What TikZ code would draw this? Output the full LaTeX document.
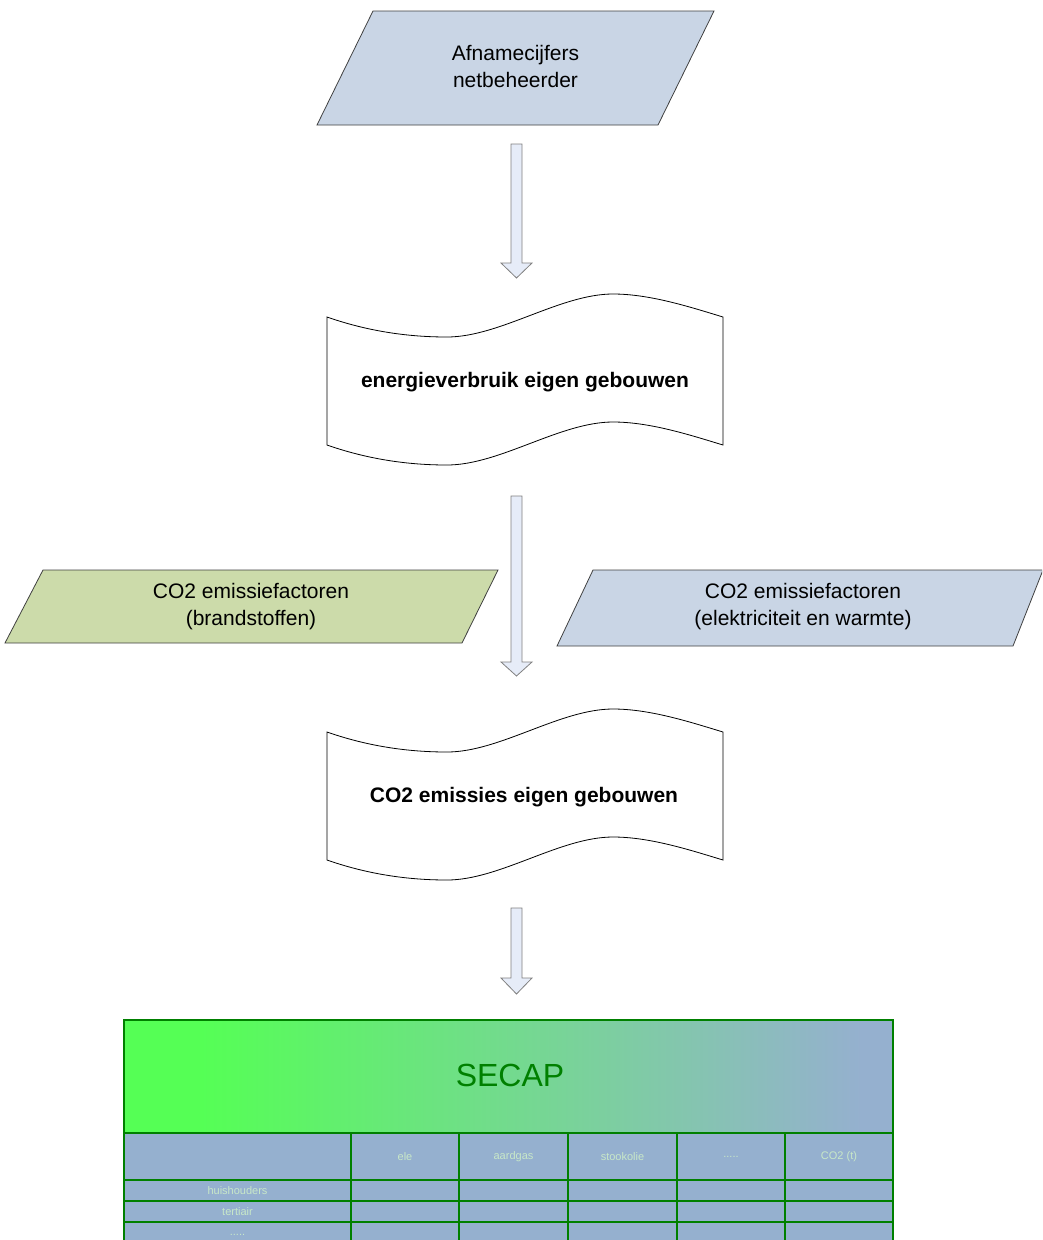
\documentclass[tikz,border=0pt]{standalone}
\usepackage{fontspec}
\setmainfont{Liberation Sans}
\definecolor{parblue}{RGB}{201,213,229}
\definecolor{pargreen}{RGB}{204,219,170}
\definecolor{arrowfill}{RGB}{230,236,248}
\definecolor{tblue}{RGB}{149,176,207}
\definecolor{tgreen}{RGB}{0,128,0}
\definecolor{brightgreen}{RGB}{85,255,85}
\definecolor{ttext}{RGB}{200,232,200}
\pgfdeclarehorizontalshading{secapshade}{100bp}{color(0bp)=(brightgreen); color(30bp)=(brightgreen); color(73bp)=(tblue); color(100bp)=(tblue)}
\newcommand\docshape[1]{%
  \draw[docst] (327,#1) .. controls (367,{#1+14}) and (407,{#1+20}) .. (447,{#1+20})
    .. controls (500,{#1+20}) and (560,{#1-23}) .. (613,{#1-23})
    .. controls (650,{#1-23}) and (690,{#1-10}) .. (723,#1)
    -- (723,{#1+128})
    .. controls (690,{#1+118}) and (650,{#1+105}) .. (613,{#1+105})
    .. controls (560,{#1+105}) and (500,{#1+148}) .. (447,{#1+148})
    .. controls (407,{#1+148}) and (367,{#1+142}) .. (327,{#1+128}) -- cycle;}
\newcommand\blockarrow[3]{%
  \draw[barrow] (511,#1) -- (522,#1) -- (522,#2) -- (532,#2) -- (516.5,#3) -- (501,#2) -- (511,#2) -- cycle;}
\tikzset{
  parast/.style={draw=black!75, line width=0.8pt},
  docst/.style={draw=black, line width=0.8pt, fill=white},
  barrow/.style={draw=black!50, fill=arrowfill, line width=0.8pt},
  lbl/.style={align=center, inner sep=0pt, font=\fontsize{21}{27}\selectfont},
  blbl/.style={inner sep=0pt, font=\fontsize{21}{27}\selectfont\bfseries},
  cell/.style={draw=tgreen, line width=1.6pt, fill=tblue},
  ctext/.style={text=ttext, inner sep=0pt, font=\fontsize{11}{13}\selectfont},
}
\begin{document}
\begin{tikzpicture}[x=1pt,y=-1pt]
\useasboundingbox (0,0) rectangle (1042,1240);
\clip (0,0) rectangle (1042,1240);
% top input
\draw[parast, fill=parblue] (373,11) -- (714,11) -- (658,125) -- (317,125) -- cycle;
\node[lbl] (src) at (515.5,66) {Afnamecijfers\\netbeheerder};
\blockarrow{144}{263}{278}
% document 1
\docshape{317}
\node[blbl] (doc1) at (525,382) {energieverbruik eigen gebouwen};
\blockarrow{496}{662}{676}
% factor inputs
\draw[parast, fill=pargreen] (43,570) -- (498,570) -- (462,643) -- (5,643) -- cycle;
\node[lbl] (fuel) at (251,606.5) {CO2 emissiefactoren\\(brandstoffen)};
\draw[parast, fill=parblue] (593,570) -- (1043,570) -- (1013,646) -- (557,646) -- cycle;
\node[lbl] (elec) at (803,607) {CO2 emissiefactoren\\(elektriciteit en warmte)};
% document 2
\docshape{732}
\node[blbl] (doc2) at (524,797) {CO2 emissies eigen gebouwen};
\blockarrow{908}{978}{994}
% SECAP table
\path[shading=secapshade] (124,1020) rectangle (893,1133);
\draw[tgreen, line width=1.6pt] (124,1020) rectangle (893,1133);
\node[text=tgreen, inner sep=0pt, font=\fontsize{32}{38}\selectfont] (secap) at (510,1075) {SECAP};
\foreach \ya/\yb in {1133/1180, 1180/1201, 1201/1222, 1222/1256}{
  \foreach \xa/\xb in {124/351, 351/459, 459/568, 568/677, 677/785, 785/893}{
    \draw[cell] (\xa,\ya) rectangle (\xb,\yb);
  }
}
\node[ctext] (h1) at (405,1157) {ele};
\node[ctext] (h2) at (513.5,1157) {aardgas};
\node[ctext] (h3) at (622.5,1157) {stookolie};
\node[ctext] (h4) at (731,1157) {.....};
\node[ctext] (h5) at (839,1157) {CO2 (t)};
\node[ctext] (r1) at (237.5,1191) {huishouders};
\node[ctext] (r2) at (237.5,1211.5) {tertiair};
\node[ctext] (r3) at (237.5,1235) {.....};
\end{tikzpicture}
\end{document}
